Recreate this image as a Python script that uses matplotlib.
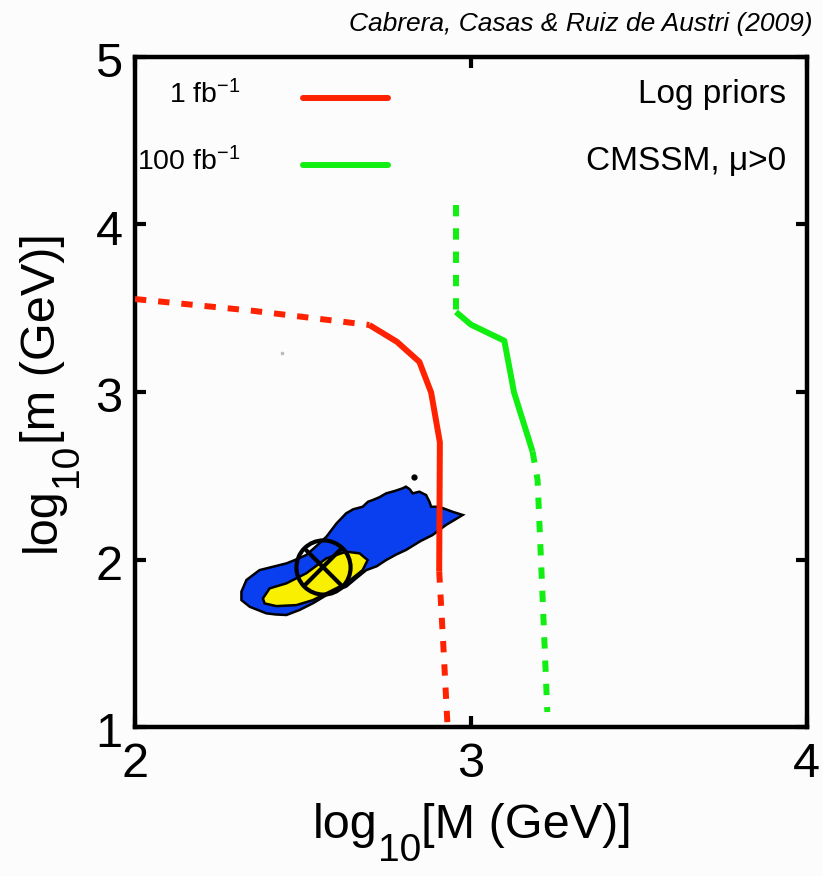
import matplotlib
matplotlib.use("Agg")
import matplotlib.pyplot as plt
from matplotlib.transforms import ScaledTranslation

plt.rcParams['font.family'] = ['Liberation Sans', 'DejaVu Sans']
plt.rcParams['mathtext.fontset'] = 'custom'
plt.rcParams['mathtext.rm'] = 'Liberation Sans'
plt.rcParams['mathtext.it'] = 'Liberation Sans:italic'
plt.rcParams['mathtext.bf'] = 'Liberation Sans:bold'

# 1 fb^-1 reach curve (log10 M, log10 m)
red_dash_top_x = [2.0, 2.35, 2.698]
red_dash_top_y = [3.555, 3.485, 3.40]
red_solid_x = [2.698, 2.78, 2.847, 2.882, 2.908, 2.906]
red_solid_y = [3.40, 3.30, 3.18, 2.997, 2.70, 1.93]
red_dash_bot_x = [2.906, 2.918, 2.931]
red_dash_bot_y = [1.93, 1.50, 1.00]

# 100 fb^-1 reach curve
green_dash_top_x = [2.956, 2.956]
green_dash_top_y = [4.116, 3.478]
green_solid_x = [2.956, 3.0006, 3.100, 3.129, 3.184]
green_solid_y = [3.478, 3.402, 3.306, 2.997, 2.645]
green_dash_bot_x = [3.184, 3.199, 3.214, 3.228]
green_dash_bot_y = [2.645, 2.475, 1.771, 1.090]

# posterior credible regions
blue_x = [2.317, 2.332, 2.371, 2.411, 2.451, 2.480, 2.510, 2.540, 2.570, 2.600, 2.629,
          2.650, 2.678, 2.694, 2.708, 2.728, 2.748, 2.775, 2.797, 2.807, 2.818, 2.827,
          2.847, 2.867, 2.877, 2.882, 2.906, 2.946, 2.976, 2.926, 2.886, 2.850, 2.807,
          2.778, 2.748, 2.720, 2.689, 2.660, 2.629, 2.600, 2.579, 2.530, 2.490, 2.451,
          2.420, 2.391, 2.342, 2.317]
blue_y = [1.808, 1.878, 1.937, 1.957, 1.977, 2.000, 2.027, 2.080, 2.136, 2.215, 2.276,
          2.300, 2.315, 2.345, 2.355, 2.372, 2.395, 2.410, 2.425, 2.435, 2.420, 2.395,
          2.405, 2.385, 2.345, 2.315, 2.315, 2.285, 2.266, 2.206, 2.146, 2.110, 2.057,
          2.030, 1.997, 1.960, 1.937, 1.890, 1.838, 1.815, 1.798, 1.739, 1.699, 1.669,
          1.672, 1.679, 1.718, 1.758]
yellow_x = [2.381, 2.401, 2.451, 2.510, 2.570, 2.629, 2.669, 2.693, 2.678, 2.629,
            2.579, 2.530, 2.481, 2.421, 2.386]
yellow_y = [1.768, 1.828, 1.858, 1.918, 2.007, 2.047, 2.037, 1.997, 1.937, 1.858,
            1.808, 1.758, 1.728, 1.722, 1.738]

best_fit = (2.560, 1.957)
stray_dot = (2.832, 2.491)
grey_dot = (2.439, 3.231)

x_ticks = [2, 3, 4]
y_ticks = [1, 2, 3, 4, 5]

RED = '#ff2200'
GREEN = '#11ee11'
BLUE = '#0a3ff0'
YELLOW = '#f8f000'
BG = '#fcfcfc'

fig = plt.figure(figsize=(8.23, 8.76), dpi=100, facecolor=BG)
ax = fig.add_axes([0.164, 0.170, 0.816, 0.765], facecolor=BG)

lw = 4.3
dash = (1.9, 2.0)

ax.fill(blue_x, blue_y, facecolor=BLUE, edgecolor='black', lw=1.8, zorder=2)
ax.fill(yellow_x, yellow_y, facecolor=YELLOW, edgecolor='black', lw=1.8, zorder=3)
ax.plot(*stray_dot, 'o', color='black', ms=3.5, zorder=3)
ax.plot(*grey_dot, 's', color='#bbbbbb', ms=1.5, zorder=3)

ax.plot(red_dash_top_x, red_dash_top_y, color=RED, lw=lw, dashes=dash,
        dash_capstyle='butt', zorder=4)
ax.plot(red_solid_x, red_solid_y, color=RED, lw=lw, solid_capstyle='butt', zorder=4)
ax.plot(red_dash_bot_x, red_dash_bot_y, color=RED, lw=lw, dashes=dash,
        dash_capstyle='butt', zorder=4)
ax.plot(green_dash_top_x, green_dash_top_y, color=GREEN, lw=lw, dashes=dash,
        dash_capstyle='butt', zorder=4)
ax.plot(green_solid_x, green_solid_y, color=GREEN, lw=lw, solid_capstyle='butt', zorder=4)
ax.plot(green_dash_bot_x, green_dash_bot_y, color=GREEN, lw=lw, dashes=dash,
        dash_capstyle='butt', zorder=4)

# best-fit point: circled cross
ax.plot(*best_fit, 'o', mfc='none', mec='black', mew=3.0, ms=39, zorder=5)
ax.plot(*best_fit, 'x', color='black', mew=3.0, ms=27, zorder=5)

ax.set_xlim(2, 4)
ax.set_ylim(1, 5)
ax.set_xticks(x_ticks)
ax.set_yticks(y_ticks)
ax.set_xticklabels([str(v) for v in x_ticks])
ax.set_yticklabels([str(v) for v in y_ticks])
ax.tick_params(direction='in', length=8, width=3, labelsize=35,
               top=True, right=True)
ax.tick_params(axis='y', pad=9)
ax.tick_params(axis='x', pad=11)
for s in ax.spines.values():
    s.set_linewidth(3.2)

shift = ScaledTranslation(0, -2 / 72, fig.dpi_scale_trans)
for lab in ax.get_yticklabels():
    lab.set_transform(lab.get_transform() + shift)

# in-plot legend
ax.text(0.1575, 0.931, r'1 fb$^{-1}$', transform=ax.transAxes, ha='right',
        va='baseline', fontsize=20.5)
ax.text(0.1575, 0.831, r'100 fb$^{-1}$', transform=ax.transAxes, ha='right',
        va='baseline', fontsize=20.5)
ax.plot([0.250, 0.377], [0.939, 0.939], transform=ax.transAxes, color=RED,
        lw=4.3, solid_capstyle='round')
ax.plot([0.250, 0.377], [0.839, 0.839], transform=ax.transAxes, color=GREEN,
        lw=4.3, solid_capstyle='round')
ax.text(0.969, 0.931, 'Log priors', transform=ax.transAxes, ha='right',
        va='baseline', fontsize=24)
ax.text(0.969, 0.831, 'CMSSM, μ>0', transform=ax.transAxes, ha='right',
        va='baseline', fontsize=24)

fig.text(0.987, 0.965, 'Cabrera, Casas & Ruiz de Austri (2009)', ha='right',
         va='baseline', fontsize=19, style='italic')

renderer = fig.canvas.get_renderer()


def label_with_subscript(x, y, parts, rotation=0):
    """Draw a run of text pieces along a baseline, each with its own size and drop."""
    sizes = []
    for s, size, _ in parts:
        t = fig.text(0, 0, s, fontsize=size)
        bb = t.get_window_extent(renderer)
        sizes.append(bb.width * 72 / fig.dpi)
        t.remove()
    total = sum(sizes)
    offset = -total / 2
    for (s, size, drop), w in zip(parts, sizes):
        if rotation == 0:
            tr = fig.transFigure + ScaledTranslation(offset / 72, -drop / 72,
                                                     fig.dpi_scale_trans)
        else:
            tr = fig.transFigure + ScaledTranslation(drop / 72, offset / 72,
                                                     fig.dpi_scale_trans)
        fig.text(x, y, s, fontsize=size, transform=tr, ha='left', va='baseline',
                 rotation=rotation, rotation_mode='anchor')
        offset += w


label_with_subscript(0.574, 0.043,
                     [('log', 35, 0), ('10', 28, 16), ('[M (GeV)]', 35, 0)])
label_with_subscript(0.0668, 0.552,
                     [('log', 35, 0), ('10', 28, 16), ('[m (GeV)]', 35, 0)],
                     rotation=90)

fig.savefig('out.png', dpi=100, facecolor=BG)
